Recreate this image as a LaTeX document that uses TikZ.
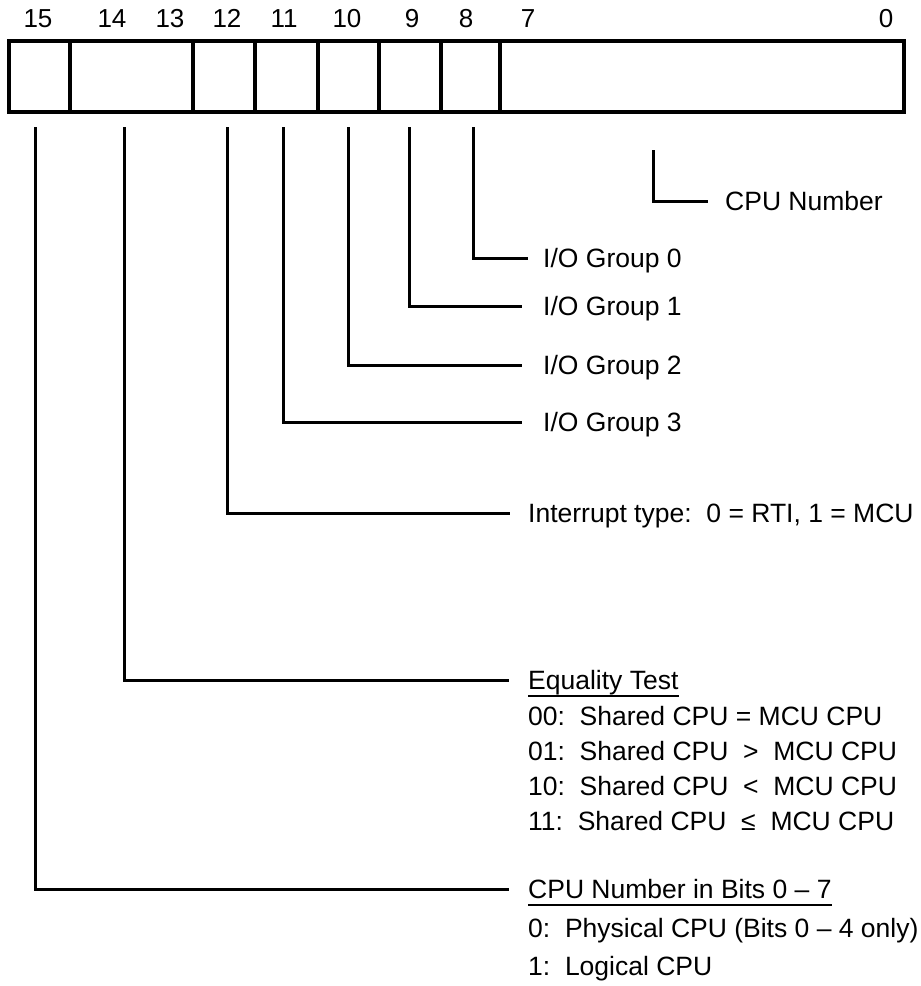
\documentclass[tikz,border=0pt]{standalone}
\usepackage{fontspec}
\setmainfont{Liberation Sans}
\begin{document}
\begin{tikzpicture}[x=1pt,y=-1pt,
  field/.style={draw, line width=3.2pt, inner sep=0pt, outer sep=0pt, minimum height=71pt},
  bitnum/.style={font=\fontsize{26}{30}\selectfont, inner sep=0pt, anchor=base},
  lbl/.style={font=\fontsize{26.5}{30}\selectfont, inner sep=0pt, anchor=west, text height=19pt, text depth=0pt},
  leader/.style={line width=3pt},
  uline/.style={line width=1.8pt}]
\useasboundingbox (0,0) rectangle (921,986);
% register fields
\node[field, minimum width=61pt]  (f15)   at (39.5,76.5) {};
\node[field, minimum width=123pt] (f1413) at (131.5,76.5) {};
\node[field, minimum width=62pt]  (f12)   at (224,76.5) {};
\node[field, minimum width=63pt]  (f11)   at (286.5,76.5) {};
\node[field, minimum width=61pt]  (f10)   at (348.5,76.5) {};
\node[field, minimum width=62pt]  (f9)    at (410,76.5) {};
\node[field, minimum width=59pt]  (f8)    at (470.5,76.5) {};
\node[field, minimum width=404pt] (f70)   at (702,76.5) {};
% bit numbers
\node[bitnum] (b15) at (38,27) {15};
\node[bitnum] (b14) at (112,27) {14};
\node[bitnum] (b13) at (170,27) {13};
\node[bitnum] (b12) at (227,27) {12};
\node[bitnum] (b11) at (284,27) {11};
\node[bitnum] (b10) at (347,27) {10};
\node[bitnum] (b9)  at (412,27) {9};
\node[bitnum] (b8)  at (466,27) {8};
\node[bitnum] (b7)  at (528,27) {7};
\node[bitnum] (b0)  at (886,27) {0};
% labels
\node[lbl] (cpun) at (725,201) {CPU Number};
\node[lbl] (g0) at (543,258) {I/O Group 0};
\node[lbl] (g1) at (543,306) {I/O Group 1};
\node[lbl] (g2) at (543,365) {I/O Group 2};
\node[lbl] (g3) at (543,422) {I/O Group 3};
\node[lbl] (it) at (528,513) {Interrupt type:\ \ 0 = RTI, 1 = MCU};
\node[lbl] (eq) at (528,680) {Equality Test};
\node[lbl] (eq0) at (528,716) {00:\ \ Shared CPU = MCU CPU};
\node[lbl] (eq1) at (528,751) {01:\ \ Shared CPU \ > \ MCU CPU};
\node[lbl] (eq2) at (528,786) {10:\ \ Shared CPU \ < \ MCU CPU};
\node[lbl] (eq3) at (528,821) {11:\ \ Shared CPU \ ≤ \ MCU CPU};
\node[lbl] (cb) at (528,889) {CPU Number in Bits 0 – 7};
\node[lbl] (cb0) at (528,928) {0:\ \ Physical CPU (Bits 0 – 4 only)};
\node[lbl] (cb1) at (528,966) {1:\ \ Logical CPU};
\draw[uline] ([yshift=-6pt]eq.south west) -- ([yshift=-6pt]eq.south east);
\draw[uline] ([yshift=-6pt]cb.south west) -- ([yshift=-6pt]cb.south east);
% leader start points
\coordinate (v15) at (35,127);
\coordinate (v1413) at (124,127);
\coordinate (v12) at (227,127);
\coordinate (v11) at (283,127);
\coordinate (v10) at (348,127);
\coordinate (v9) at (409,127);
\coordinate (v8) at (473,127);
\coordinate (v70) at (653,150);
% leaders
\draw[leader] (v70) |- ([xshift=-17pt]cpun.west);
\draw[leader] (v8) |- ([xshift=-15pt]g0.west);
\draw[leader] (v9) |- ([xshift=-21pt]g1.west);
\draw[leader] (v10) |- ([xshift=-21pt]g2.west);
\draw[leader] (v11) |- ([xshift=-21pt]g3.west);
\draw[leader] (v12) |- ([xshift=-18pt]it.west);
\draw[leader] (v1413) |- ([xshift=-19pt]eq.west);
\draw[leader] (v15) |- ([xshift=-19pt]cb.west);
\end{tikzpicture}
\end{document}
